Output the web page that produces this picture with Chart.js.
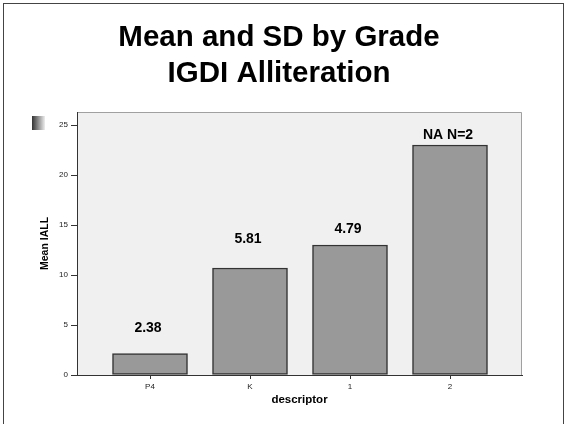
<!DOCTYPE html>
<html>
<head>
<title>Mean and SD by Grade</title>
<style>
body { margin: 0; background: #fff; overflow: hidden; }
.frame {
	position: absolute;
	left: 3px; top: 3px;
	width: 559px; height: 440px;
	border: 1px solid #444;
}
canvas { position: absolute; left: 0; top: 0; }
</style>
<script src="https://cdn.jsdelivr.net/npm/chart.js@4/dist/chart.umd.min.js"></script>
</head>
<body>
<div class="frame"></div>
<canvas id="chart" width="564" height="424"></canvas>
<script>
const grades = ['P4', 'K', '1', '2'];
const meanValues = [2.15, 10.7, 13.0, 23.0];
const sdLabels = ['2.38', '5.81', '4.79', 'NA N=2'];
const sdLabelY = [4.7, 13.6, 14.6, 24.0];

// grey plot background, light frame on top/right, little legend swatch
const plotBackground = {
	id: 'plotBackground',
	beforeDraw(chart) {
		const {ctx, chartArea: a} = chart;
		ctx.save();
		ctx.fillStyle = '#f0f0f0';
		ctx.fillRect(a.left, a.top, a.right - a.left, a.bottom - a.top);
		ctx.strokeStyle = '#a0a0a0';
		ctx.lineWidth = 1;
		ctx.beginPath();
		ctx.moveTo(a.left, a.top + 0.5);
		ctx.lineTo(a.right - 0.5, a.top + 0.5);
		ctx.lineTo(a.right - 0.5, a.bottom);
		ctx.stroke();
		const g = ctx.createLinearGradient(32, 0, 45, 0);
		g.addColorStop(0, '#333');
		g.addColorStop(1, '#eee');
		ctx.fillStyle = g;
		ctx.fillRect(32, 116, 13, 14);
		ctx.restore();
	}
};

const sdText = {
	id: 'sdText',
	afterDatasetsDraw(chart) {
		const {ctx, scales: {x, y}} = chart;
		ctx.save();
		ctx.font = 'bold 14px "Liberation Sans", Arial, sans-serif';
		ctx.fillStyle = '#000';
		ctx.textAlign = 'center';
		ctx.textBaseline = 'middle';
		sdLabels.forEach((t, i) => {
			ctx.fillText(t, x.getPixelForValue(i) - 2, y.getPixelForValue(sdLabelY[i]));
		});
		ctx.restore();
	}
};

const tickFont = {family: '"Liberation Sans", Arial, sans-serif', size: 8};

new Chart(document.getElementById('chart'), {
	type: 'bar',
	data: {
		datasets: [{
			data: meanValues.map((v, i) => ({x: i, y: v})),
			backgroundColor: '#999999',
			borderColor: '#333333',
			borderWidth: 1.5,
			borderSkipped: false,
			barThickness: 75
		}]
	},
	options: {
		responsive: false,
		devicePixelRatio: 1,
		animation: false,
		layout: {padding: {left: 36, right: 42, top: 0, bottom: 0}},
		plugins: {
			legend: {display: false},
			tooltip: {enabled: false},
			title: {
				display: true,
				text: ['Mean and SD by Grade', 'IGDI Alliteration'],
				color: '#000',
				font: {family: '"Liberation Sans", Arial, sans-serif', size: 29.5, weight: 'bold', lineHeight: 36 / 29.5},
				padding: {top: 20, bottom: 20}
			}
		},
		scales: {
			x: {
				type: 'linear',
				offset: false,
				min: -0.73,
				max: 3.72,
				afterFit: s => { s.height = 49; },
				border: {display: true, color: '#333', width: 1},
				grid: {offset: false, drawOnChartArea: false, tickLength: 4, tickColor: '#333'},
				ticks: {
					stepSize: 1,
					includeBounds: false,
					autoSkip: false,
					maxRotation: 0,
					padding: 3,
					color: '#222',
					font: tickFont,
					callback: v => grades[v] ?? ''
				},
				title: {
					display: true,
					text: 'descriptor',
					color: '#000',
					font: {family: '"Liberation Sans", Arial, sans-serif', size: 11.5, weight: 'bold'},
					padding: {top: 0, bottom: 17}
				}
			},
			y: {
				min: 0,
				max: 26.3,
				afterFit: s => { s.width = 41; },
				border: {display: true, color: '#333', width: 1},
				grid: {drawOnChartArea: false, tickLength: 6, tickColor: '#333'},
				ticks: {
					stepSize: 5,
					includeBounds: false,
					padding: 3,
					color: '#222',
					font: tickFont
				},
				title: {
					display: true,
					text: 'Mean IALL',
					color: '#000',
					font: {family: '"Liberation Sans Narrow", "Liberation Sans", Arial, sans-serif', size: 10.5, weight: 'bold'},
					padding: {top: 3, bottom: 0}
				}
			}
		}
	},
	plugins: [plotBackground, sdText]
});
</script>
</body>
</html>
